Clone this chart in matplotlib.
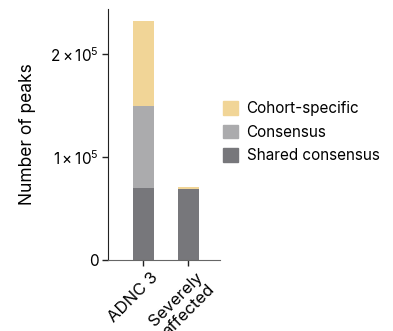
import matplotlib
matplotlib.use('Agg')
import matplotlib.pyplot as plt
import matplotlib.transforms as mtransforms
from matplotlib.patches import Patch

plt.rcParams['font.family'] = ['Inter', 'DejaVu Sans']
plt.rcParams['mathtext.default'] = 'regular'

groups = ['ADNC 3', 'Severely\naffected']
shared = [70000, 69000]
consensus = [79500, 0]
cohort = [82500, 2000]

series = ['Cohort-specific', 'Consensus', 'Shared consensus']
colors = {'Cohort-specific': '#f1d597', 'Consensus': '#ababad', 'Shared consensus': '#77777b'}

yticks = [0, 100000, 200000]
ytick_labels = ['0', '1\u2009×\u200910$^5$', '2\u2009×\u200910$^5$']

fig = plt.figure(figsize=(3.93, 3.31), dpi=100)
ax = fig.add_axes([0.275, 0.2145, 0.285, 0.7585])

x = list(range(len(groups)))
w = 0.47
ax.bar(x, shared, w, color=colors['Shared consensus'])
ax.bar(x, consensus, w, bottom=shared, color=colors['Consensus'])
base = [a + b for a, b in zip(shared, consensus)]
ax.bar(x, cohort, w, bottom=base, color=colors['Cohort-specific'])

ax.set_xlim(-0.78, 1.71)
ax.set_ylim(0, 244000)
ax.set_yticks(yticks)
ax.set_yticklabels(ytick_labels, fontsize=11)
ax.set_xticks(x)
ax.set_xticklabels([])

# slanted group names, ends tucked just right of and below each tick
shift = mtransforms.ScaledTranslation(0.07, -0.10, fig.dpi_scale_trans)
for xi, name in zip(x, groups):
    ax.text(xi, 0, name, transform=ax.get_xaxis_transform() + shift,
            rotation=45, ha='right', va='top', rotation_mode='anchor',
            fontsize=12, linespacing=1.15, clip_on=False)

ax.set_ylabel('Number of peaks', fontsize=12.5, labelpad=10)

for s in ['top', 'right']:
    ax.spines[s].set_visible(False)
ax.spines['left'].set_color('#222222')
ax.spines['bottom'].set_color('#666666')
ax.tick_params(axis='both', length=4, width=1, color='#222222', pad=3)

handles = [Patch(color=colors[s], label=s) for s in series]
fig.legend(handles=handles, loc='center left', bbox_to_anchor=(0.567, 0.601),
           frameon=False, fontsize=11, handlelength=1.0, handleheight=1.0,
           handletextpad=0.55, labelspacing=0.55, borderpad=0, borderaxespad=0)

fig.savefig('out.png', dpi=100)
